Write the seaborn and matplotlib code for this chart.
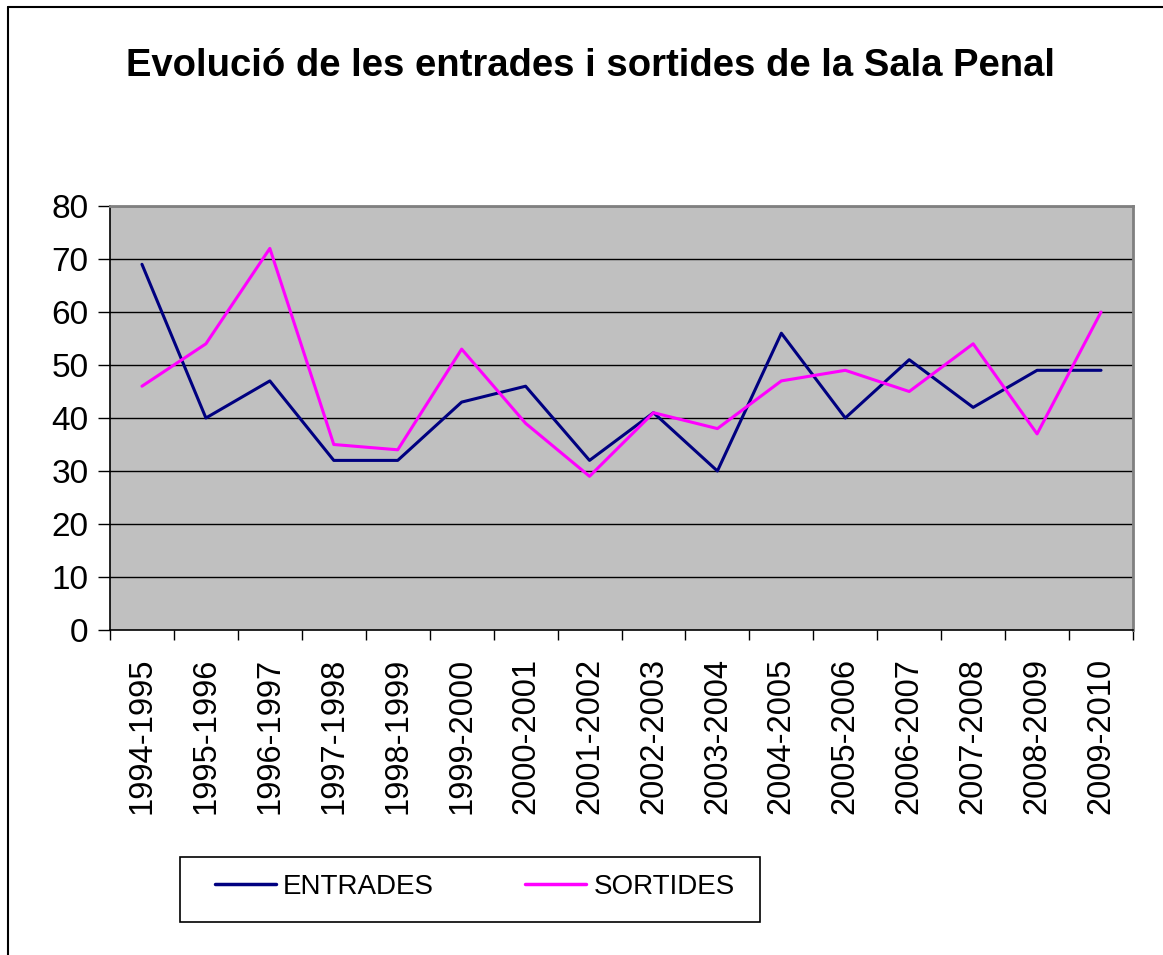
import matplotlib
matplotlib.use("Agg")
import matplotlib.pyplot as plt
from matplotlib.lines import Line2D
from matplotlib.patches import Rectangle
import seaborn as sns
import pandas as pd
import numpy as np

periods = ["1994-1995", "1995-1996", "1996-1997", "1997-1998", "1998-1999",
           "1999-2000", "2000-2001", "2001-2002", "2002-2003", "2003-2004",
           "2004-2005", "2005-2006", "2006-2007", "2007-2008", "2008-2009",
           "2009-2010"]
entrades = [69, 40, 47, 32, 32, 43, 46, 32, 41, 30, 56, 40, 51, 42, 49, 49]
sortides = [46, 54, 72, 35, 34, 53, 39, 29, 41, 38, 47, 49, 45, 54, 37, 60]
yticks = [0, 10, 20, 30, 40, 50, 60, 70, 80]
title = "Evolució de les entrades i sortides de la Sala Penal"

sns.set_theme(style="white")
plt.rcParams["font.family"] = ["Liberation Sans", "DejaVu Sans"]
plt.rcParams["text.color"] = "black"
plt.rcParams["xtick.labelcolor"] = "black"
plt.rcParams["ytick.labelcolor"] = "black"

df = pd.DataFrame({
    "pos": list(range(len(periods))) * 2,
    "value": entrades + sortides,
    "serie": ["ENTRADES"] * len(periods) + ["SORTIDES"] * len(periods),
})

W, H = 1163, 955
fig = plt.figure(figsize=(W / 100, H / 100), dpi=100)
fig.patch.set_facecolor("white")
ax = fig.add_axes([110 / W, 1 - 630 / H, (1133 - 110) / W, (630 - 206) / H])
ax.set_facecolor("#C0C0C0")

sns.lineplot(data=df, x="pos", y="value", hue="serie",
             palette={"ENTRADES": "#000080", "SORTIDES": "#FF00FF"},
             linewidth=2.2, ax=ax, legend=False, zorder=3)

ax.set_xlim(-0.5, len(periods) - 0.5)
ax.set_ylim(0, 80)
ax.set_yticks(yticks)
ax.set_yticklabels([str(v) for v in yticks], fontsize=24)
for v in yticks[1:]:
    ax.axhline(v, color="black", lw=1.0, zorder=1)

ax.set_xticks(range(len(periods)))
ax.set_xticklabels(periods, rotation=90, fontsize=23.5)
ax.set_xticks(np.arange(-0.5, len(periods), 1.0), minor=True)
ax.tick_params(axis="x", which="major", length=0, pad=20)
ax.tick_params(axis="x", which="minor", length=7.5, width=1, color="black", direction="out", bottom=True)
ax.tick_params(axis="y", length=8.6, width=1, color="black", direction="out", left=True, pad=7)
ax.set_xlabel("")
ax.set_ylabel("")

for s in ["left", "bottom"]:
    ax.spines[s].set_color("black")
    ax.spines[s].set_linewidth(1.2)
for s in ["top", "right"]:
    ax.spines[s].set_color("#808080")
    ax.spines[s].set_linewidth(2.0)

fig.text(590 / W, 1 - 66 / H, title, ha="center", va="center",
         fontsize=27.5, fontweight="bold", color="black")

# outer chart border (partly cut at right/bottom)
fig.add_artist(Line2D([8 / W, 1.0], [1 - 7 / H, 1 - 7 / H], color="black", lw=1.5, transform=fig.transFigure))
fig.add_artist(Line2D([8 / W, 8 / W], [0.0, 1 - 7 / H], color="black", lw=1.5, transform=fig.transFigure))

# legend box
fig.add_artist(Rectangle((180 / W, 1 - 922 / H), (760 - 180) / W, (922 - 857) / H,
                         transform=fig.transFigure, facecolor="white",
                         edgecolor="black", lw=1.2))
handles = [Line2D([], [], color="#000080", lw=2.5), Line2D([], [], color="#FF00FF", lw=2.5)]
fig.legend(handles, ["ENTRADES", "SORTIDES"], loc="center",
           bbox_to_anchor=((180 + 760) / 2 / W + 0.004, 1 - 887 / H),
           ncol=2, frameon=False, fontsize=20, handlelength=2.2,
           handletextpad=0.25, columnspacing=3.3)

fig.savefig("out.png", dpi=100)
